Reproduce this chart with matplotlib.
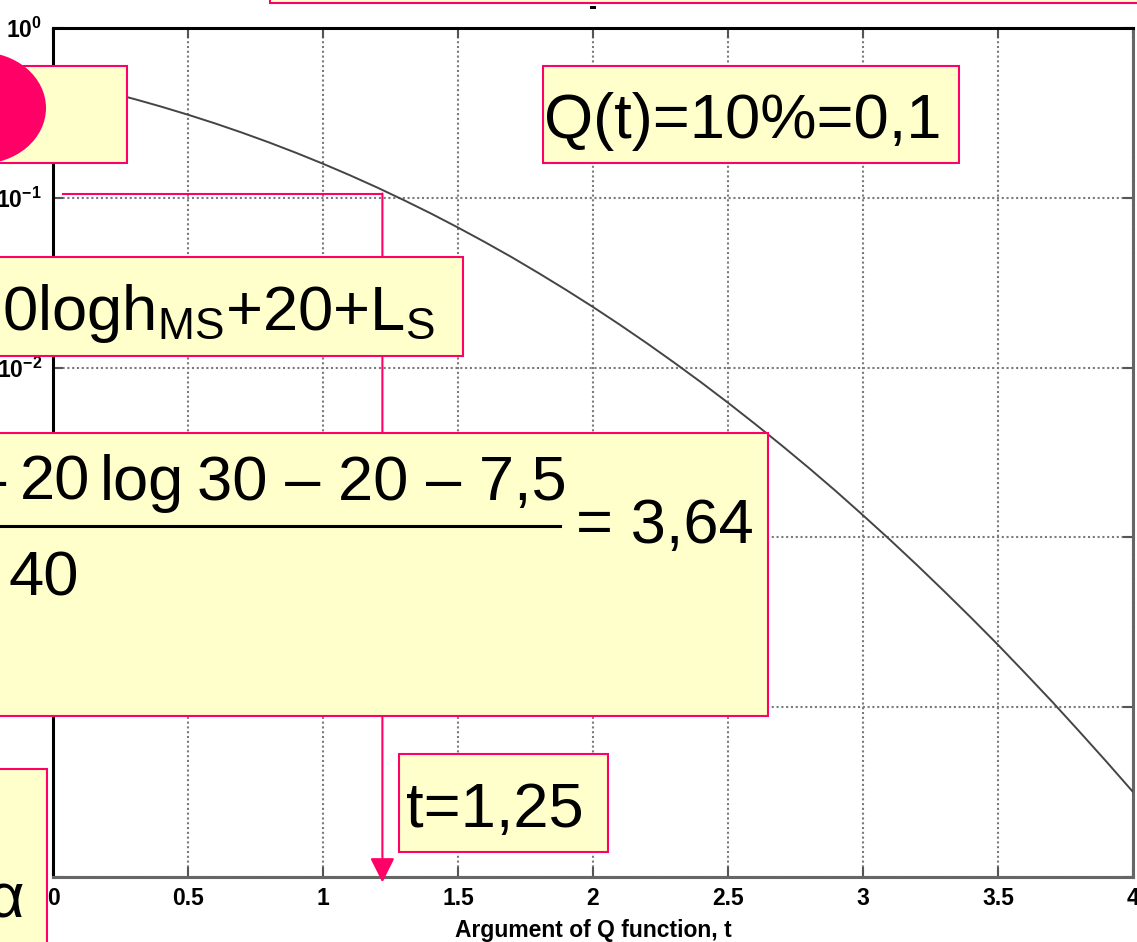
import numpy as np
import matplotlib.pyplot as plt
from matplotlib.patches import Rectangle, Ellipse
from matplotlib.lines import Line2D

plt.rcParams['font.family'] = ['Liberation Sans', 'DejaVu Sans']
plt.rcParams['mathtext.fontset'] = 'custom'
plt.rcParams['mathtext.rm'] = 'Liberation Sans'
plt.rcParams['mathtext.it'] = 'Liberation Sans:italic'
plt.rcParams['mathtext.bf'] = 'Liberation Sans:bold'

# Q(t) curve, values at steps of 0.1
t_vals = np.linspace(0, 4, 41)
q_vals = [0.5, 0.4602, 0.4207, 0.3821, 0.3446, 0.3085, 0.2743, 0.2420, 0.2119, 0.1841,
          0.1587, 0.1357, 0.1151, 0.0968, 0.0808, 0.0668, 0.0548, 0.0446, 0.0359, 0.0287,
          0.02275, 0.01786, 0.01390, 0.01072, 0.00820, 0.00621, 0.00466, 0.00347, 0.00256, 0.00187,
          0.00135, 0.000968, 0.000687, 0.000483, 0.000337, 0.000233, 0.000159, 0.000108,
          0.0000723, 0.0000481, 0.0000317]

x_ticks = [0, 0.5, 1, 1.5, 2, 2.5, 3, 3.5, 4]
x_ticklabels = ['0', '0.5', '1', '1.5', '2', '2.5', '3', '3.5', '4']
y_ticks = [1e-5, 1e-4, 1e-3, 1e-2, 1e-1, 1e0]
y_ticklabels = [r'$\mathbf{10^{-5}}$', r'$\mathbf{10^{-4}}$', r'$\mathbf{10^{-3}}$',
                r'$\mathbf{10^{-2}}$', r'$\mathbf{10^{-1}}$', r'$\mathbf{10^{0}}$']

# annotation: reading Q(t)=0.1 off the curve
t_ann = 1.22
q_ann = 0.106
t_start = 0.037

W, H = 1137, 942
fig = plt.figure(figsize=(W / 100, H / 100), dpi=100)
ax = fig.add_axes([53 / W, 1 - 877 / H, (1133 - 53) / W, (877 - 28) / H])

ax.plot(t_vals, q_vals, color='#444444', lw=1.4, zorder=3)
ax.set_yscale('log')
ax.set_xlim(0, 4)
ax.set_ylim(1e-5, 1)
ax.set_xticks(x_ticks)
ax.set_xticklabels(x_ticklabels, fontweight='bold')
ax.set_yticks(y_ticks)
ax.set_yticklabels(y_ticklabels)
ax.yaxis.set_minor_locator(plt.NullLocator())
ax.tick_params(which='both', direction='in', length=7, width=1.5, color='#555555',
               top=True, right=True, labelsize=16.5)
ax.tick_params(axis='x', pad=7)
ax.tick_params(axis='y', pad=8)
ax.grid(True, color='#7a7a7a', lw=1.5, linestyle=(0, (1, 1.3)))
ax.set_xlabel('Argument of Q function, t', fontsize=16.5, fontweight='bold', labelpad=7)

for side in ['left', 'top']:
    ax.spines[side].set_color('black')
    ax.spines[side].set_linewidth(2.2)
for side in ['right', 'bottom']:
    ax.spines[side].set_color('#666666')
    ax.spines[side].set_linewidth(2.2)

pink = '#FF0066'
ax.plot([t_start, t_ann], [q_ann, q_ann], color=pink, lw=1.5, clip_on=False, zorder=4)
ax.annotate('', xy=(t_ann, 9.3e-6), xytext=(t_ann, q_ann), annotation_clip=False,
            arrowprops=dict(arrowstyle='-|>,head_length=1.0,head_width=0.5', color=pink,
                            lw=1.5, mutation_scale=15, shrinkA=0, shrinkB=0), zorder=4)


def box(x0, y0, x1, y1):
    fig.add_artist(Rectangle((x0 / W, 1 - y1 / H), (x1 - x0) / W, (y1 - y0) / H,
                             transform=fig.transFigure, facecolor='#FFFFCC',
                             edgecolor=pink, lw=1.5, zorder=5))


def txt(x, y, s, **kw):
    fig.text(x / W, 1 - y / H, s, fontsize=45.5, va='baseline', zorder=6, **kw)


box(270, -50, 1160, 3)
fig.add_artist(Rectangle((590 / W, 1 - 9 / H), 6 / W, 3 / H, transform=fig.transFigure,
                         facecolor='black', lw=0, zorder=6))

box(-10, 66, 127, 163)
fig.add_artist(Ellipse((-20 / W, 1 - 108 / H), 132 / W, 112 / H, transform=fig.transFigure,
                       facecolor=pink, edgecolor='none', zorder=6))

box(543, 66, 959, 163)
txt(544, 138, 'Q(t)=10%=0,1')

box(-10, 257, 463, 356)
txt(2, 330, r'0logh$_{\mathrm{MS}}$+20+L$_{\mathrm{S}}$')

box(-10, 433, 768, 716)
txt(6, 500, '–', ha='right')
txt(20, 500, '20')
txt(100, 500, 'log')
txt(197, 500, '30 – 20 – 7,5')
fig.add_artist(Line2D([0, 560 / W], [1 - 526 / H, 1 - 526 / H], transform=fig.transFigure,
                      color='black', lw=2.2, zorder=6))
txt(9, 595, '40')
txt(576, 543, '= 3,64')

box(399, 754, 608, 852)
txt(406, 827, 't=1,25')

box(-10, 769, 47, 960)
txt(24, 918, 'α', ha='right')

fig.savefig('out.png', dpi=100)
